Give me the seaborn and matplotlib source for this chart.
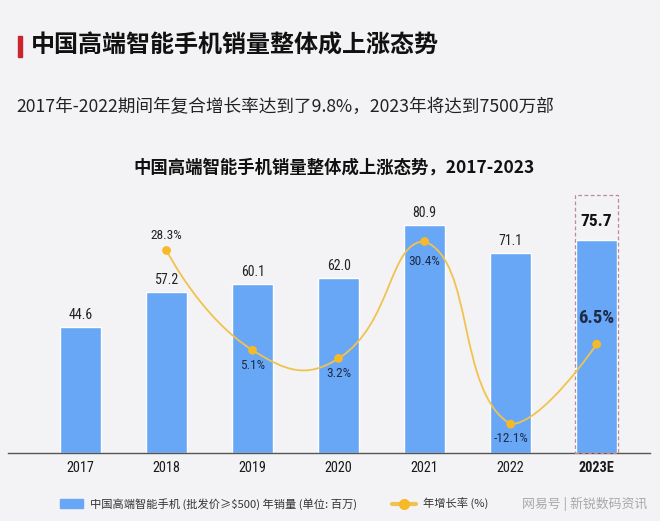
import numpy as np
import matplotlib.pyplot as plt
import seaborn as sns
from matplotlib.path import Path
from matplotlib.patches import PathPatch, Rectangle
from matplotlib.lines import Line2D

# data
years = ["2017", "2018", "2019", "2020", "2021", "2022", "2023E"]
sales = [44.6, 57.2, 60.1, 62.0, 80.9, 71.1, 75.7]          # million units
growth_years = ["2018", "2019", "2020", "2021", "2022", "2023E"]
growth = [28.3, 5.1, 3.2, 30.4, -12.1, 6.5]                  # %

BG = "#f3f3f5"
BAR = "#68a7f6"
LINE = "#f2c24e"
DOT = "#f6b928"
NAVY = "#1d2b48"

sns.set_style("white")
plt.rcParams["font.family"] = ["Noto Sans CJK SC", "DejaVu Sans"]
NUM = ["Roboto Condensed", "Liberation Sans Narrow", "DejaVu Sans", "Noto Sans CJK SC"]

W, H = 660, 521
fig = plt.figure(figsize=(W / 100, H / 100), dpi=100, facecolor=BG)


def fx(px):
    return px / W


def fy(py):
    return 1 - py / H


ax = fig.add_axes([fx(8), fy(453), fx(650) - fx(8), fy(195) - fy(453)])
ax.patch.set_alpha(0)

sns.barplot(x=years, y=sales, color=BAR, width=0.48, saturation=1, ax=ax, zorder=2)
ax.set_xlim(-0.843, 6.62)
ax.set_ylim(0, 91.5)
ax.set_yticks([])
ax.set_xlabel("")
ax.set_ylabel("")
for s in ["top", "left", "right"]:
    ax.spines[s].set_visible(False)
ax.spines["bottom"].set_color("#555555")
ax.spines["bottom"].set_linewidth(1.0)
ax.tick_params(axis="x", length=0, pad=6, labelsize=10.3, labelcolor="#1a1a1a")
for lab in ax.get_xticklabels():
    lab.set_family(NUM)
    lab.set_stretch("condensed")
ax.get_xticklabels()[-1].set_fontweight("bold")

# bar value labels
for i, v in enumerate(sales[:-1]):
    ax.text(i, v + 1.7, f"{v:.1f}", ha="center", va="bottom", fontsize=10,
            color="#222222", family=NUM, stretch="condensed")
ax.text(len(sales) - 1, sales[-1] + 3.6, f"{sales[-1]:.1f}", ha="center", va="bottom",
        fontsize=12.5, fontweight="bold", color="#111111", family=NUM, stretch="condensed")

# dashed highlight box around the forecast bar
ax.add_patch(Rectangle((len(sales) - 1 - 0.25, 0), 0.5, 91.5, fill=False,
                       ls=(0, (3, 2)), lw=0.9, ec="#c08a92", zorder=3, clip_on=False))

# growth line on secondary axis
ax2 = ax.twinx()
ax2.set_ylim(-18.8, 41.2)
ax2.axis("off")
gx = np.array([years.index(y) for y in growth_years], dtype=float)
gy = np.array(growth, dtype=float)

# smooth curve (distance-weighted bezier tangents, control points kept
# inside the data's value range so the curve does not overshoot the extremes)
sx, sy = 86.0, 4.3          # px per unit, used only for tangent weighting
smooth = 0.5
n = len(gx)
cp_in, cp_out = [], []
for i in range(n):
    p = np.array([gx[i], gy[i]])
    if i == 0 or i == n - 1:
        cp_in.append(p)
        cp_out.append(p)
        continue
    prev = np.array([gx[i - 1], gy[i - 1]])
    nxt = np.array([gx[i + 1], gy[i + 1]])
    d0 = np.hypot((p[0] - prev[0]) * sx, (p[1] - prev[1]) * sy)
    d1 = np.hypot((nxt[0] - p[0]) * sx, (nxt[1] - p[1]) * sy)
    r = d1 / (d0 + d1)
    v = nxt - prev
    a = p - v * smooth * (1 - r)
    b = p + v * smooth * r
    a[1] = np.clip(a[1], gy.min(), gy.max())
    b[1] = np.clip(b[1], gy.min(), gy.max())
    cp_in.append(a)
    cp_out.append(b)
verts = [(gx[0], gy[0])]
codes = [Path.MOVETO]
for i in range(n - 1):
    verts += [tuple(cp_out[i]), tuple(cp_in[i + 1]), (gx[i + 1], gy[i + 1])]
    codes += [Path.CURVE4] * 3
ax2.add_patch(PathPatch(Path(verts, codes), fill=False, ec=LINE, lw=1.3, zorder=4))
sns.scatterplot(x=gx, y=gy, color=DOT, s=40, edgecolor="none", ax=ax2, zorder=5)

# growth labels
offsets = {"2018": 1.9, "2019": -2.0, "2020": -2.0, "2021": -3.1, "2022": -1.7}
for xg, yv, lab in zip(gx, gy, growth_years):
    if lab == "2023E":
        ax2.text(xg, yv + 4.0, f"{yv:.1f}%", ha="center", va="bottom", fontsize=13.5,
                 fontweight="bold", color=NAVY, family=NUM, stretch="condensed")
        continue
    off = offsets[lab]
    ax2.text(xg, yv + off, f"{yv:.1f}%", ha="center",
             va="bottom" if off > 0 else "top", fontsize=9.6,
             color="#222222" if off > 0 else NAVY, family=NUM, stretch="condensed")

# headings
fig.add_artist(Rectangle((fx(18), fy(57)), fx(4), fy(36) - fy(57), color="#c8262b",
                         transform=fig.transFigure))
fig.text(fx(31), fy(46), "中国高端智能手机销量整体成上涨态势", fontsize=17.3,
         fontweight="black", color="#111111", va="center", ha="left")
fig.text(fx(16), fy(107), "2017年-2022期间年复合增长率达到了9.8%，2023年将达到7500万部",
         fontsize=12.7, color="#222222", va="center", ha="left")
fig.text(fx(334), fy(168), "中国高端智能手机销量整体成上涨态势，2017-2023", fontsize=12.5,
         fontweight="bold", color="#111111", va="center", ha="center")

# legend
fig.add_artist(Rectangle((fx(60), fy(508)), fx(23), fy(499) - fy(508), color=BAR,
                         transform=fig.transFigure))
fig.text(fx(90), fy(504), "中国高端智能手机 (批发价≥$500) 年销量 (单位: 百万)",
         fontsize=8.1, color="#333333", va="center", ha="left")
fig.add_artist(Line2D([fx(392), fx(416)], [fy(504), fy(504)], color=LINE, lw=3,
                      transform=fig.transFigure))
fig.add_artist(Line2D([fx(404)], [fy(504)], marker="o", markersize=7, color=DOT,
                      transform=fig.transFigure))
fig.text(fx(423), fy(504), "年增长率 (%)", fontsize=8.1, color="#333333",
         va="center", ha="left")
fig.text(fx(522), fy(504), "网易号 | 新锐数码资讯", fontsize=9.3, color="#a8a8a8",
         va="center", ha="left")

fig.savefig("out.png", dpi=100, facecolor=BG)
